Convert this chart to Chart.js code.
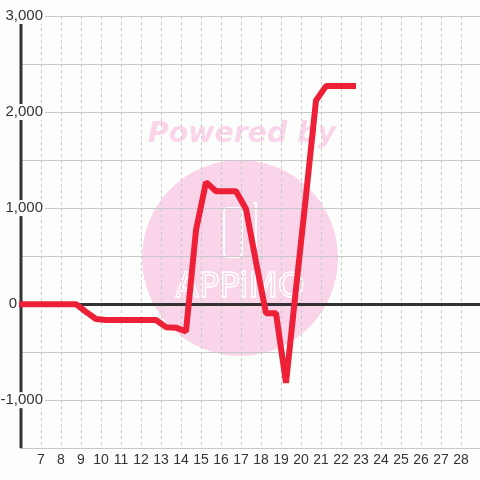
<!DOCTYPE html>
<html>
<head>
<meta charset="utf-8">
<script src="https://cdn.jsdelivr.net/npm/chart.js@4/dist/chart.umd.min.js"></script>
<style>
    html, body { margin: 0; padding: 0; background: #fcfefc; }
    #wrap { width: 480px; height: 480px; }
</style>
</head>
<body>
<div id="wrap"><canvas id="chart" width="480" height="480"></canvas></div>
<script>
// values
const times  = [5.75, 6.25, 6.75, 7.25, 7.75, 8.25, 8.75, 9.25, 9.75, 10.25, 10.75, 11.25, 11.75, 12.25, 12.75, 13.25, 13.75, 14.25,
                14.75, 15.25, 15.75, 16.25, 16.75, 17.25, 17.75, 18.25, 18.75, 19.25, 19.75, 20.25, 20.75, 21.25, 21.75, 22.25, 22.75]
const values = [0, 0, 0, 0, 0, 0, 0, -80, -155, -165, -165, -165, -165, -165, -165, -240, -245, -285,
                770, 1270, 1175, 1175, 1175, 990, 440, -95, -95, -820, 160, 1130, 2120, 2270, 2270, 2270, 2270]
const xTickLabels = [7, 8, 9, 10, 11, 12, 13, 14, 15, 16, 17, 18, 19, 20, 21, 22, 23, 24, 25, 26, 27, 28]
const yGridValues = [-1500, -1000, -500, 0, 500, 1000, 1500, 2000, 2500, 3000]
const yTickLabels = [-1000, 0, 1000, 2000, 3000]

const TEXT = '#333333'
const GRID = '#c8c8c8'
const RED  = '#ee2038'
const FONT = '"Liberation Sans", Arial, sans-serif'

const bgPlugin = {
    id: 'bg',
    beforeDraw(chart) {
        const c = chart.ctx
        c.save()
        c.fillStyle = '#fcfefc'
        c.fillRect(0, 0, chart.width, chart.height)
        // watermark
        c.fillStyle = '#fad5ea'
        c.beginPath()
        c.arc(240, 258, 98, 0, Math.PI * 2)
        c.fill()
        c.font = 'italic bold 29px "DejaVu Sans", sans-serif'
        c.textAlign = 'center'
        c.textBaseline = 'middle'
        c.fillText('Powered by', 242, 134, 188)
        c.strokeStyle = '#ffffff'
        c.lineWidth = 2
        c.beginPath()
        c.roundRect(224, 208, 18, 49, 4)
        c.stroke()
        c.beginPath()
        c.moveTo(253, 203)
        c.lineTo(256, 203)
        c.lineTo(256, 250)
        c.stroke()
        c.font = '34px "DejaVu Sans", sans-serif'
        c.lineWidth = 1.5
        c.strokeText('APPiMO', 240, 288, 132)
        c.restore()
    }
}

const axisPlugin = {
    id: 'axisLine',
    beforeDatasetsDraw(chart) {
        const c = chart.ctx
        const a = chart.chartArea
        c.save()
        c.strokeStyle = TEXT
        c.lineWidth = 3
        c.beginPath()
        c.moveTo(a.left, a.top)
        c.lineTo(a.left, a.bottom)
        c.stroke()
        c.restore()
    },
    afterDraw(chart) {
        // y labels sit on a white box over the axis; wide ones are pushed right
        const c = chart.ctx
        const y = chart.scales.y
        c.save()
        c.font = '15px ' + FONT
        c.textBaseline = 'middle'
        c.textAlign = 'right'
        yTickLabels.forEach(v => {
            const txt = v.toLocaleString('en-US')
            const w = c.measureText(txt).width
            const right = w > 16 ? 43 : 17
            const py = y.getPixelForValue(v)
            c.fillStyle = '#fcfefc'
            c.fillRect(right - w - 1, py - 8, w + 3, 16)
            c.fillStyle = TEXT
            c.fillText(txt, right, py)
        })
        c.restore()
    }
}

new Chart(document.getElementById('chart'), {
    type: 'line',
    data: {
        datasets: [{
            data: times.map((t, i) => ({ x: t, y: values[i] })),
            borderColor: RED,
            borderWidth: 6,
            borderJoinStyle: 'bevel',
            pointRadius: 0,
            tension: 0,
            fill: false,
            clip: false
        }]
    },
    options: {
        responsive: false,
        animation: false,
        layout: { padding: { left: 21, top: 16, right: 0, bottom: 7 } },
        plugins: { legend: { display: false }, tooltip: { enabled: false } },
        scales: {
            x: {
                type: 'linear',
                min: 6,
                max: 28.95,
                afterBuildTicks: s => { s.ticks = xTickLabels.map(v => ({ value: v })) },
                ticks: { color: TEXT, font: { size: 14, family: FONT }, padding: 4, autoSkip: false, maxRotation: 0 },
                grid: { color: GRID, lineWidth: 1, drawTicks: false },
                border: { display: false, dash: [3, 3] }
            },
            y: {
                min: -1500,
                max: 3000,
                afterBuildTicks: s => { s.ticks = yGridValues.map(v => ({ value: v })) },
                afterFit: s => { s.width = 0 },
                ticks: { display: false },
                grid: {
                    drawTicks: false,
                    color: ctx => ctx.tick && ctx.tick.value === 0 ? TEXT : GRID,
                    lineWidth: ctx => ctx.tick && ctx.tick.value === 0 ? 3 : 1
                },
                border: { display: false }
            }
        }
    },
    plugins: [bgPlugin, axisPlugin]
})
</script>
</body>
</html>
